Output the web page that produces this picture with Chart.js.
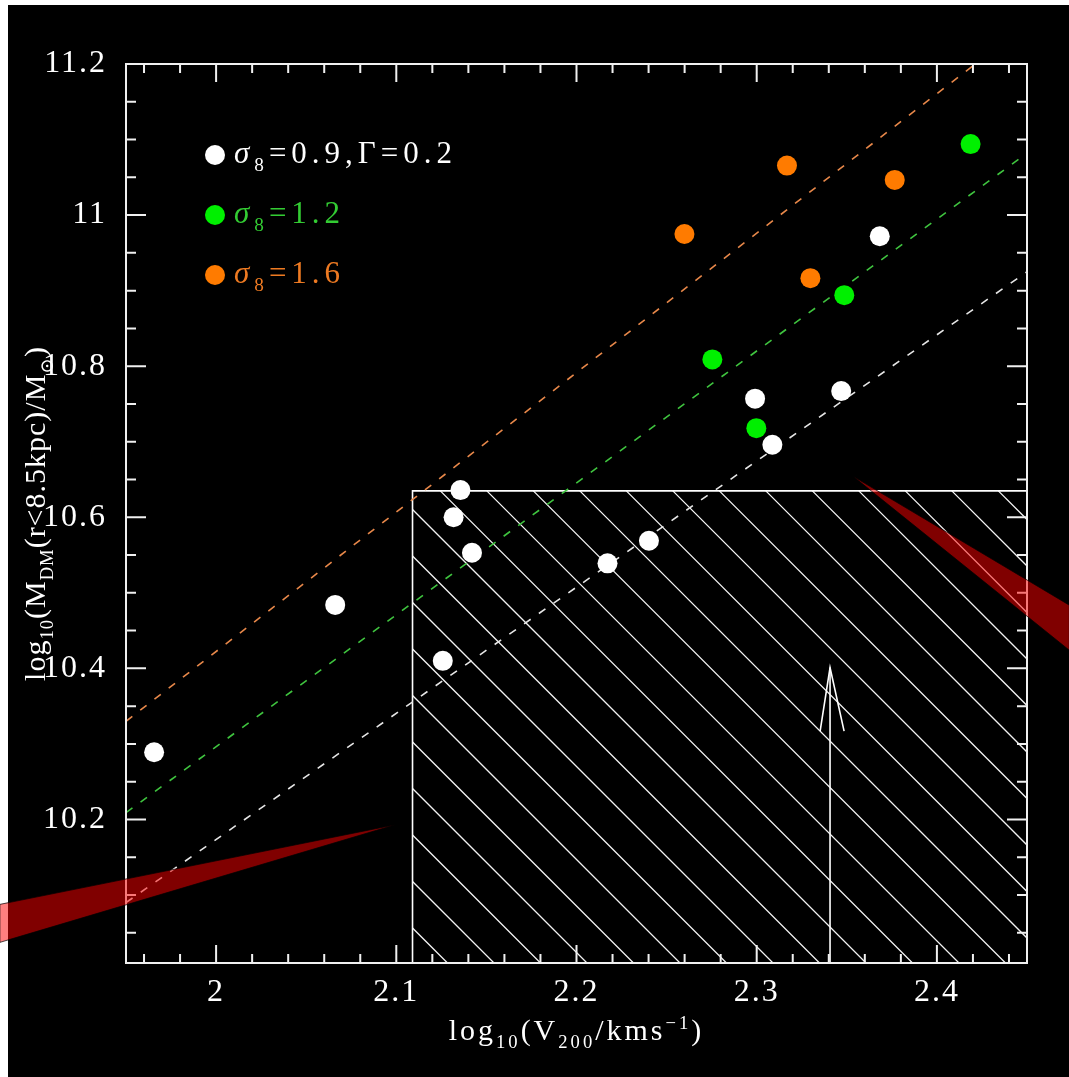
<!DOCTYPE html>
<html>
<head>
<meta charset="utf-8">
<script src="https://cdn.jsdelivr.net/npm/chart.js@4.4.0/dist/chart.umd.min.js"></script>
<style>
  html, body { margin: 0; padding: 0; background: #fff; }
  canvas { display: block; }
</style>
</head>
<body>
<canvas id="chart" width="1069" height="1077"></canvas>
<script>
/* global Chart */
const X_MIN = 1.95;
const X_MAX = 2.45;
const Y_MIN = 10.01;
const Y_MAX = 11.2;
const xTickValues = [2, 2.1, 2.2, 2.3, 2.4];
const yTickValues = [10.2, 10.4, 10.6, 10.8, 11, 11.2];

// sigma8 = 0.9, Gamma = 0.2
const whiteX = [1.9656, 2.0661, 2.1258, 2.1318, 2.1356, 2.142, 2.2172, 2.2402, 2.2991, 2.3087, 2.3469, 2.3683];
const whiteY = [10.289, 10.484, 10.41, 10.6, 10.636, 10.553, 10.539, 10.569, 10.757, 10.696, 10.767, 10.972];
// sigma8 = 1.2
const greenX = [2.2754, 2.2998, 2.3486, 2.4187];
const greenY = [10.809, 10.718, 10.894, 11.094];
// sigma8 = 1.6
const orangeX = [2.2599, 2.3168, 2.3298, 2.3766];
const orangeY = [10.975, 11.0655, 10.9165, 11.0466];

// dashed relations
const fitWhiteX = [1.95, 2.45];
const fitWhiteY = [10.09, 10.925];
const fitGreenX = [1.95, 2.45];
const fitGreenY = [10.209, 11.082];
const fitOrangeX = [1.95, 2.4213];
const fitOrangeY = [10.33, 11.2];

// hatched region and arrow
const boxX = [2.109, 2.109, 2.45];
const boxY = [Y_MIN, 10.635, 10.635];
const arrowX = [2.3407, 2.3407];
const arrowY = [Y_MIN, 10.401];
const headX = [2.3352, 2.3407, 2.3485];
const headY = [10.317, 10.401, 10.317];

// red pointer wedges laid over the figure
const wedgeAX = [1.88, 2.0994, 1.88];
const wedgeAY = [10.0876, 10.193, 10.0373];
const wedgeBX = [2.4735, 2.3535, 2.4735];
const wedgeBY = [10.4836, 10.6542, 10.424];

const FONT = '"Liberation Serif", "DejaVu Serif", serif';
Chart.defaults.font.family = FONT;

const zip = (xs, ys) => xs.map((x, i) => ({ x, y: ys[i] }));

function dots(data, color) {
  return {
    type: 'scatter',
    data,
    backgroundColor: color,
    borderWidth: 0,
    pointRadius: 10,
    pointHoverRadius: 10,
  };
}

function path(data, color, width, dash) {
  return {
    type: 'line',
    data,
    borderColor: color,
    borderWidth: width,
    borderDash: dash || [],
    pointRadius: 0,
    fill: false,
    tension: 0,
  };
}

function setFont(ctx, s, size) {
  const fs = s.sub || s.sup ? size * 0.62 : size;
  ctx.font = `${s.italic ? 'italic ' : ''}${fs}px ${FONT}`;
}

function drawRich(ctx, segs, x, y, size) {
  let cx = x;
  segs.forEach((s) => {
    setFont(ctx, s, size);
    let dy = 0;
    if (s.sub) dy = size * 0.26;
    if (s.sup) dy = -size * 0.38;
    ctx.fillText(s.t, cx, y + dy);
    cx += ctx.measureText(s.t).width;
  });
  return cx - x;
}

function richWidth(ctx, segs, size) {
  let w = 0;
  segs.forEach((s) => {
    setFont(ctx, s, size);
    w += ctx.measureText(s.t).width;
  });
  return w;
}

const backgroundPlugin = {
  id: 'background',
  beforeDraw(chart) {
    const { ctx, width, height } = chart;
    ctx.fillStyle = '#fff';
    ctx.fillRect(0, 0, width, height);
    ctx.fillStyle = '#000';
    ctx.fillRect(8, 5, width - 8, height - 5);
    // wider glyph spacing, closer to the plotter font of the original
    ctx.letterSpacing = '2px';
  },
};

const hatchPlugin = {
  id: 'hatch',
  beforeDatasetsDraw(chart) {
    const { ctx, chartArea, scales } = chart;
    const left = scales.x.getPixelForValue(boxX[0]);
    const top = scales.y.getPixelForValue(boxY[1]);
    const right = chartArea.right;
    const bottom = chartArea.bottom;
    const h = bottom - top;
    const gap = 46.5;
    ctx.save();
    ctx.beginPath();
    ctx.rect(left, top, right - left, h);
    ctx.clip();
    ctx.strokeStyle = '#f2f2f2';
    ctx.lineWidth = 1.3;
    ctx.beginPath();
    for (let x0 = right - 21.5 + gap * Math.ceil(h / gap); x0 > left; x0 -= gap) {
      ctx.moveTo(x0 - h, top);
      ctx.lineTo(x0, bottom);
    }
    ctx.stroke();
    ctx.restore();
  },
};

const framePlugin = {
  id: 'frame',
  afterDatasetsDraw(chart) {
    const { ctx, chartArea: a, scales } = chart;
    ctx.save();
    ctx.strokeStyle = '#f0f0f0';
    ctx.lineWidth = 2;
    ctx.strokeRect(a.left, a.top, a.right - a.left, a.bottom - a.top);
    ctx.beginPath();
    const xTick = (v, len) => {
      const p = scales.x.getPixelForValue(v);
      ctx.moveTo(p, a.bottom); ctx.lineTo(p, a.bottom - len);
      ctx.moveTo(p, a.top); ctx.lineTo(p, a.top + len);
    };
    const yTick = (v, len) => {
      const p = scales.y.getPixelForValue(v);
      ctx.moveTo(a.left, p); ctx.lineTo(a.left + len, p);
      ctx.moveTo(a.right, p); ctx.lineTo(a.right - len, p);
    };
    for (let i = 98; i <= 122; i++) {
      xTick(i / 50, i % 5 === 0 ? 18 : 9);
    }
    for (let i = 201; i <= 223; i++) {
      yTick(i / 20, i % 4 === 0 ? 20 : 10);
    }
    ctx.stroke();
    ctx.restore();
  },
};

const legendItems = [
  { color: '#ffffff', text: '#ffffff', segs: [{ t: 'σ', italic: true }, { t: '8', sub: true }, { t: '=0.9,Γ=0.2' }] },
  { color: '#00f000', text: '#33cc33', segs: [{ t: 'σ', italic: true }, { t: '8', sub: true }, { t: '=1.2' }] },
  { color: '#ff7b00', text: '#ee7a22', segs: [{ t: 'σ', italic: true }, { t: '8', sub: true }, { t: '=1.6' }] },
];

const legendPlugin = {
  id: 'customLegend',
  afterDatasetsDraw(chart) {
    const { ctx, chartArea: a } = chart;
    ctx.save();
    ctx.letterSpacing = '5px';
    ctx.textBaseline = 'alphabetic';
    ctx.textAlign = 'left';
    legendItems.forEach((item, i) => {
      const cx = a.left + 89;
      const cy = a.top + 91 + i * 60;
      ctx.fillStyle = item.color;
      ctx.beginPath();
      ctx.arc(cx, cy, 10, 0, Math.PI * 2);
      ctx.fill();
      ctx.fillStyle = item.text;
      drawRich(ctx, item.segs, cx + 19, cy + 8, 31);
    });
    ctx.restore();
  },
};

const xTitle = [{ t: 'log' }, { t: '10', sub: true }, { t: '(V' }, { t: '200', sub: true }, { t: '/kms' }, { t: '−1', sup: true }, { t: ')' }];
const yTitle = [{ t: 'log' }, { t: '10', sub: true }, { t: '(M' }, { t: 'DM', sub: true }, { t: '(r<8.5kpc)/M' }, { t: '⊙', sub: true }, { t: ')' }];

const titlesPlugin = {
  id: 'titles',
  afterDraw(chart) {
    const { ctx, chartArea: a } = chart;
    const size = 30;
    ctx.save();
    ctx.fillStyle = '#fff';
    ctx.textBaseline = 'alphabetic';
    ctx.textAlign = 'left';

    ctx.letterSpacing = '3px';
    const xc = (a.left + a.right) / 2;
    const wx = richWidth(ctx, xTitle, size);
    drawRich(ctx, xTitle, xc - wx / 2, a.bottom + 77, size);

    ctx.letterSpacing = '1px';
    const yc = (a.top + a.bottom) / 2;
    const wy = richWidth(ctx, yTitle, size);
    ctx.translate(a.left - 81, yc);
    ctx.rotate(-Math.PI / 2);
    drawRich(ctx, yTitle, -wy / 2, 0, size);
    ctx.restore();
  },
};

const wedgePlugin = {
  id: 'wedges',
  afterDraw(chart) {
    const { ctx, scales } = chart;
    ctx.save();
    ctx.fillStyle = 'rgba(255, 0, 0, 0.5)';
    ctx.strokeStyle = 'rgba(0, 0, 0, 0.7)';
    ctx.lineWidth = 1;
    [[wedgeAX, wedgeAY], [wedgeBX, wedgeBY]].forEach(([xs, ys]) => {
      ctx.beginPath();
      xs.forEach((x, i) => {
        const px = scales.x.getPixelForValue(x);
        const py = scales.y.getPixelForValue(ys[i]);
        if (i === 0) ctx.moveTo(px, py); else ctx.lineTo(px, py);
      });
      ctx.closePath();
      ctx.fill();
      ctx.stroke();
    });
    ctx.restore();
  },
};

const tickFont = { family: FONT, size: 32 };

new Chart(document.getElementById('chart').getContext('2d'), {
  type: 'scatter',
  data: {
    datasets: [
      dots(zip(whiteX, whiteY), '#ffffff'),
      dots(zip(greenX, greenY), '#00f000'),
      dots(zip(orangeX, orangeY), '#ff7b00'),
      path(zip(fitOrangeX, fitOrangeY), '#e8884a', 1.6, [8, 10]),
      path(zip(fitGreenX, fitGreenY), '#3fc43f', 1.6, [8, 10]),
      path(zip(fitWhiteX, fitWhiteY), '#e6e6e6', 1.6, [8, 10]),
      path(zip(boxX, boxY), '#ffffff', 1.6),
      path(zip(arrowX, arrowY), '#ffffff', 1.6),
      path(zip(headX, headY), '#ffffff', 1.6),
    ],
  },
  options: {
    responsive: false,
    animation: false,
    events: [],
    layout: { padding: { top: 64, right: 42, left: 0, bottom: 0 } },
    plugins: {
      legend: { display: false },
      tooltip: { enabled: false },
    },
    scales: {
      x: {
        type: 'linear',
        min: X_MIN,
        max: X_MAX,
        afterBuildTicks: (scale) => { scale.ticks = xTickValues.map((value) => ({ value })); },
        afterFit: (scale) => { scale.height = 114; },
        grid: { display: false, drawTicks: false },
        border: { display: false },
        ticks: { color: '#fff', font: tickFont, padding: 10, maxRotation: 0, callback: (v) => String(+v.toFixed(2)) },
      },
      y: {
        type: 'linear',
        min: Y_MIN,
        max: Y_MAX,
        afterBuildTicks: (scale) => { scale.ticks = yTickValues.map((value) => ({ value })); },
        afterFit: (scale) => { scale.width = 126; },
        grid: { display: false, drawTicks: false },
        border: { display: false },
        ticks: { color: '#fff', font: tickFont, padding: 19, callback: (v) => String(+v.toFixed(2)) },
      },
    },
  },
  plugins: [backgroundPlugin, hatchPlugin, framePlugin, legendPlugin, titlesPlugin, wedgePlugin],
});
</script>
</body>
</html>
